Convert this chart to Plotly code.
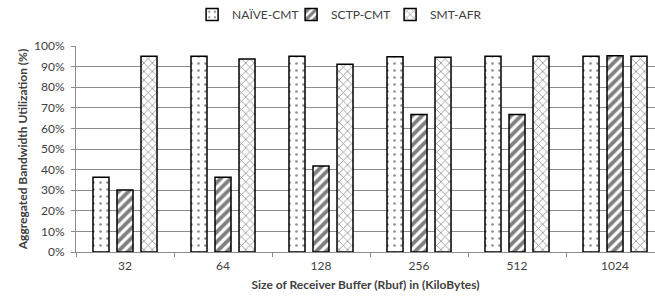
import plotly.graph_objects as go

categories = ["32", "64", "128", "256", "512", "1024"]
naive_cmt = [0.363, 0.95, 0.95, 0.948, 0.95, 0.95]
sctp_cmt = [0.301, 0.363, 0.417, 0.668, 0.668, 0.953]
smt_afr = [0.95, 0.937, 0.912, 0.945, 0.95, 0.95]
series_names = ["NAÏVE-CMT", "SCTP-CMT", "SMT-AFR"]
y_ticks = [i / 10 for i in range(11)]
y_ticktext = [f"{i*10}%" for i in range(11)]

font_family = "Lato, 'Open Sans', sans-serif"
text_color = "#404040"

patterns = [
    dict(shape=".", size=7, solidity=0.12, fgcolor="#222", bgcolor="white"),
    dict(shape="/", size=7, solidity=0.55, fgcolor="black", bgcolor="white"),
    dict(shape="x", size=6, solidity=0.25, fgcolor="#222", bgcolor="white"),
]

fig = go.Figure()
for name, vals, pat in zip(series_names, [naive_cmt, sctp_cmt, smt_afr], patterns):
    fig.add_trace(go.Bar(
        x=categories, y=vals, name=name,
        marker=dict(color="white", line=dict(color="black", width=1.5), pattern=pat),
    ))

fig.update_layout(
    width=655, height=305,
    margin=dict(l=76, r=0, t=46, b=53),
    paper_bgcolor="white", plot_bgcolor="white",
    barmode="group", bargap=0.265, bargroupgap=0.333,
    font=dict(family=font_family, size=12, color=text_color),
    showlegend=True,
    legend=dict(orientation="h", xref="container", yref="container",
                x=0.52, xanchor="center", y=1.0, yanchor="top",
                font=dict(size=12, color=text_color),
                entrywidth=54, entrywidthmode="pixels",
                traceorder="normal"),
)
fig.update_xaxes(
    type="category", range=[-0.5, 5.408], automargin=False,
    showline=True, linecolor="#8c8c8c", linewidth=1,
    ticks="outside", tickson="boundaries", ticklen=4, tickcolor="#8c8c8c",
    showgrid=False, ticklabelstandoff=3,
    tickfont=dict(size=12, color=text_color),
    title=dict(text="<b>Size of Receiver Buffer (Rbuf) in (KiloBytes)</b>",
               font=dict(size=12, color=text_color), standoff=8),
)
fig.update_yaxes(
    range=[0, 1], tickvals=y_ticks, ticktext=y_ticktext, automargin=False,
    showline=True, linecolor="#8c8c8c", linewidth=1,
    ticks="outside", ticklen=4, tickcolor="#8c8c8c",
    showgrid=True, gridcolor="#8c8c8c", gridwidth=1, ticklabelstandoff=4,
    tickfont=dict(size=12, color=text_color),
    title=dict(text="<b>Aggregated Bandwidth Utilization (%)</b>",
               font=dict(size=12, color=text_color), standoff=3),
    zeroline=False,
)

fig.write_html("out.html", post_script="document.body.style.margin='0';",
               config={"displayModeBar": False})
